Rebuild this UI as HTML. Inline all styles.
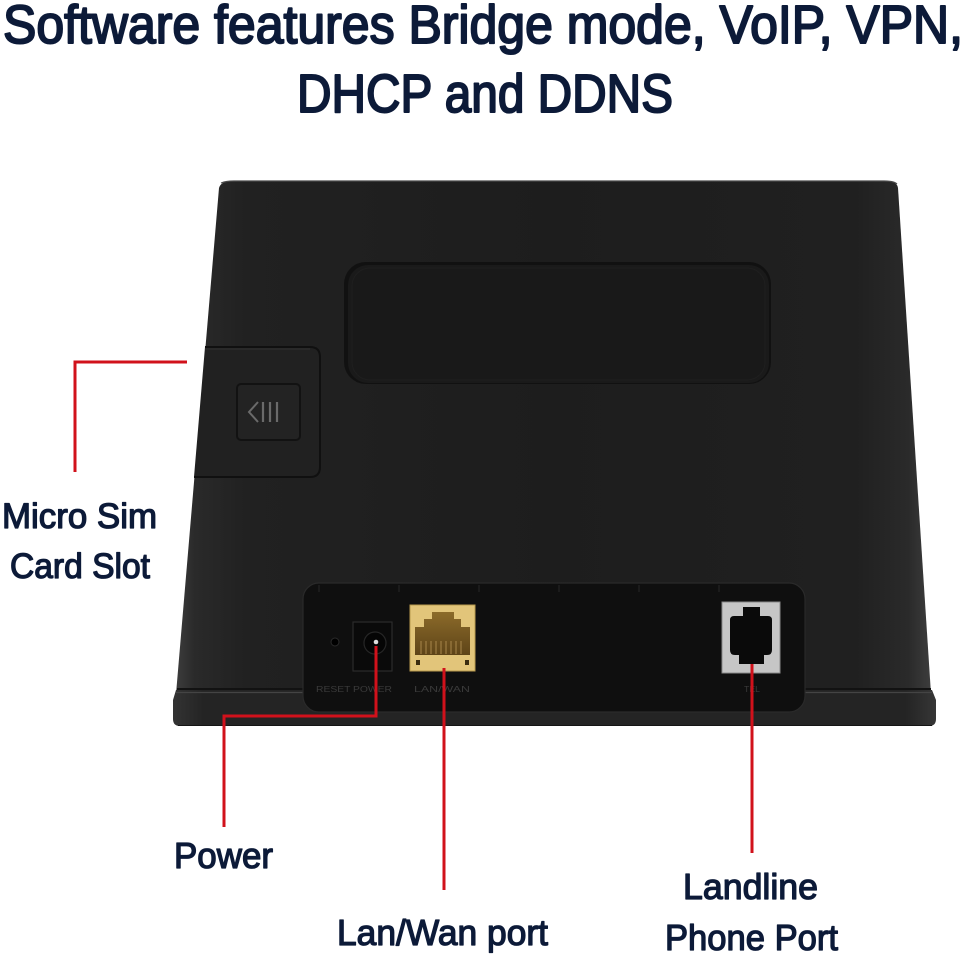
<!DOCTYPE html>
<html>
<head>
<meta charset="utf-8">
<style>
  html,body{margin:0;padding:0;background:#fff;}
  body{width:966px;height:954px;overflow:hidden;}
  svg{display:block;}
  .t{font-family:"Liberation Sans",Arial,sans-serif;font-weight:normal;fill:#0c1a38;stroke:#0c1a38;stroke-linejoin:round;}
  .ti{stroke-width:2px;}
  .lb{stroke-width:1.3px;}
  .s{font-family:"Liberation Sans",Arial,sans-serif;fill:#3a3a3a;font-size:8px;}
</style>
</head>
<body>
<svg width="966" height="954" viewBox="0 0 966 954" xmlns="http://www.w3.org/2000/svg">
  <defs>
    <linearGradient id="bodyG" x1="0" y1="0" x2="1" y2="0">
      <stop offset="0" stop-color="#3c3c3c"/>
      <stop offset="0.025" stop-color="#2a2a2a"/>
      <stop offset="0.09" stop-color="#212121"/>
      <stop offset="0.5" stop-color="#1d1d1d"/>
      <stop offset="0.9" stop-color="#202020"/>
      <stop offset="0.97" stop-color="#2a2a2a"/>
      <stop offset="1" stop-color="#3d3d3d"/>
    </linearGradient>
    <linearGradient id="baseG" x1="0" y1="0" x2="1" y2="0">
      <stop offset="0" stop-color="#333"/>
      <stop offset="0.04" stop-color="#242424"/>
      <stop offset="0.96" stop-color="#242424"/>
      <stop offset="1" stop-color="#363636"/>
    </linearGradient>
    <linearGradient id="rj" x1="0" y1="0" x2="0" y2="1">
      <stop offset="0" stop-color="#8c6b2a"/>
      <stop offset="1" stop-color="#5e4418"/>
    </linearGradient>
  </defs>

  <!-- Title -->
  <text class="t ti" x="3" y="43" font-size="54" textLength="960" lengthAdjust="spacingAndGlyphs">Software features Bridge mode, VoIP, VPN,</text>
  <text class="t ti" x="297" y="112" font-size="54" textLength="376" lengthAdjust="spacingAndGlyphs">DHCP and DDNS</text>

  <!-- Router body -->
  <path d="M219,188 Q221,181 232,181 L886,181 Q897,181 898,188 L931,694 L176,694 Z" fill="url(#bodyG)"/>
  <path d="M221,183 Q226,181 234,181 L884,181 Q894,181 897,184" fill="none" stroke="#4a4a4a" stroke-width="1.2"/>

  <!-- Base lip -->
  <path d="M176,690 L932,690 L936,700 L936,719 Q936,726 929,726 L180,726 Q173,726 173,719 L173,700 Z" fill="url(#baseG)"/>
  <line x1="177" y1="689" x2="931" y2="689" stroke="#121212" stroke-width="2"/>
  <line x1="176" y1="692.5" x2="932" y2="692.5" stroke="#444" stroke-width="1.2"/>
  <line x1="178" y1="725.5" x2="932" y2="725.5" stroke="#151515" stroke-width="1"/>

  <!-- Top recess -->
  <rect x="344" y="262" width="427" height="122" rx="22" fill="#111"/>
  <rect x="348" y="265" width="421" height="118" rx="20" fill="#1a1a1a"/>
  <rect x="352" y="268" width="413" height="112" rx="18" fill="#191919" stroke="#1f1f1f" stroke-width="1"/>

  <!-- SIM door -->
  <path d="M205,347 L310,347 Q320,347 320,357 L320,467 Q320,477 310,477 L194,477" fill="#212121" stroke="#101010" stroke-width="2"/>
  <line x1="205" y1="349" x2="310" y2="349" stroke="#313131" stroke-width="1"/>
  <rect x="237" y="384" width="63" height="56" rx="4" fill="#232323" stroke="#121212" stroke-width="2"/>
  <polyline points="258,402 249,412 258,422" fill="none" stroke="#6a6a6a" stroke-width="2"/>
  <line x1="263" y1="402" x2="263" y2="422" stroke="#6a6a6a" stroke-width="2.2"/>
  <line x1="270" y1="402" x2="270" y2="422" stroke="#6a6a6a" stroke-width="2.2"/>
  <line x1="277" y1="402" x2="277" y2="422" stroke="#6a6a6a" stroke-width="2.2"/>

  <!-- Port panel -->
  <rect x="303" y="583" width="502" height="129" rx="16" fill="#0f0f0f" stroke="#2a2a2a" stroke-width="1.2"/>
  <g fill="#1b1b1b">
    <rect x="318" y="585" width="2" height="7"/>
    <rect x="398" y="585" width="2" height="7"/>
    <rect x="478" y="585" width="2" height="7"/>
    <rect x="558" y="585" width="2" height="7"/>
    <rect x="638" y="585" width="2" height="7"/>
    <rect x="718" y="585" width="2" height="7"/>
  </g>

  <!-- Reset hole -->
  <circle cx="335" cy="642" r="4" fill="#000" stroke="#2a2a2a" stroke-width="1"/>

  <!-- Power jack -->
  <rect x="353" y="622" width="39" height="49" fill="#0a0a0a" stroke="#2b2b2b" stroke-width="1.2"/>
  <circle cx="375" cy="643" r="11" fill="#050505" stroke="#262626" stroke-width="1.2"/>
  <circle cx="376" cy="642" r="2.3" fill="#ddd"/>
  <text class="s" x="316" y="692" textLength="76" lengthAdjust="spacingAndGlyphs">RESET POWER</text>

  <!-- LAN port -->
  <rect x="410" y="605" width="65" height="66" fill="#e2c57a" stroke="#b89a4e" stroke-width="1"/>
  <path d="M432,612 L454,612 L454,619 L461,619 L461,627 L470,627 L470,655 L415,655 L415,627 L424,627 L424,619 L432,619 Z" fill="url(#rj)"/>
  <g stroke="#a7864a" stroke-width="1">
    <line x1="421" y1="641" x2="421" y2="654"/>
    <line x1="426" y1="641" x2="426" y2="654"/>
    <line x1="431" y1="641" x2="431" y2="654"/>
    <line x1="436" y1="641" x2="436" y2="654"/>
    <line x1="441" y1="641" x2="441" y2="654"/>
    <line x1="446" y1="641" x2="446" y2="654"/>
    <line x1="451" y1="641" x2="451" y2="654"/>
    <line x1="456" y1="641" x2="456" y2="654"/>
    <line x1="461" y1="641" x2="461" y2="654"/>
  </g>
  <rect x="416" y="660" width="4" height="5" fill="#3a2c10"/>
  <rect x="465" y="660" width="4" height="5" fill="#3a2c10"/>
  <text class="s" x="414" y="692" textLength="56" lengthAdjust="spacingAndGlyphs">LAN/WAN</text>

  <!-- Phone port -->
  <rect x="722" y="602" width="58" height="71" fill="#c6c6c6" stroke="#8a8a8a" stroke-width="1"/>
  <path d="M743,607 L760,607 L760,616 L768,616 Q772,616 772,620 L772,650 Q772,655 767,655 L764,655 L764,664 L739,664 L739,655 L735,655 Q730,655 730,650 L730,620 Q730,616 734,616 L743,616 Z" fill="#0a0a0a"/>
  <text class="s" x="744" y="692" textLength="16" lengthAdjust="spacingAndGlyphs">TEL</text>

  <!-- Red callout lines -->
  <g fill="none" stroke="#d1111b" stroke-width="3" stroke-linecap="butt" stroke-linejoin="miter">
    <polyline points="187,362 75,362 75,472"/>
    <polyline points="376,646 376,716 224,716 224,827"/>
    <line x1="444" y1="668" x2="444" y2="890"/>
    <line x1="752" y1="664" x2="752" y2="853"/>
  </g>

  <!-- Labels -->
  <text class="t lb" x="2" y="528" font-size="35" textLength="155" lengthAdjust="spacingAndGlyphs">Micro Sim</text>
  <text class="t lb" x="10" y="578" font-size="35" textLength="140" lengthAdjust="spacingAndGlyphs">Card Slot</text>
  <text class="t lb" x="174" y="868" font-size="36" textLength="99" lengthAdjust="spacingAndGlyphs">Power</text>
  <text class="t lb" x="337" y="945" font-size="36" textLength="211" lengthAdjust="spacingAndGlyphs">Lan/Wan port</text>
  <text class="t lb" x="683" y="899" font-size="36" textLength="135" lengthAdjust="spacingAndGlyphs">Landline</text>
  <text class="t lb" x="665" y="950" font-size="36" textLength="173" lengthAdjust="spacingAndGlyphs">Phone Port</text>
</svg>
</body>
</html>
